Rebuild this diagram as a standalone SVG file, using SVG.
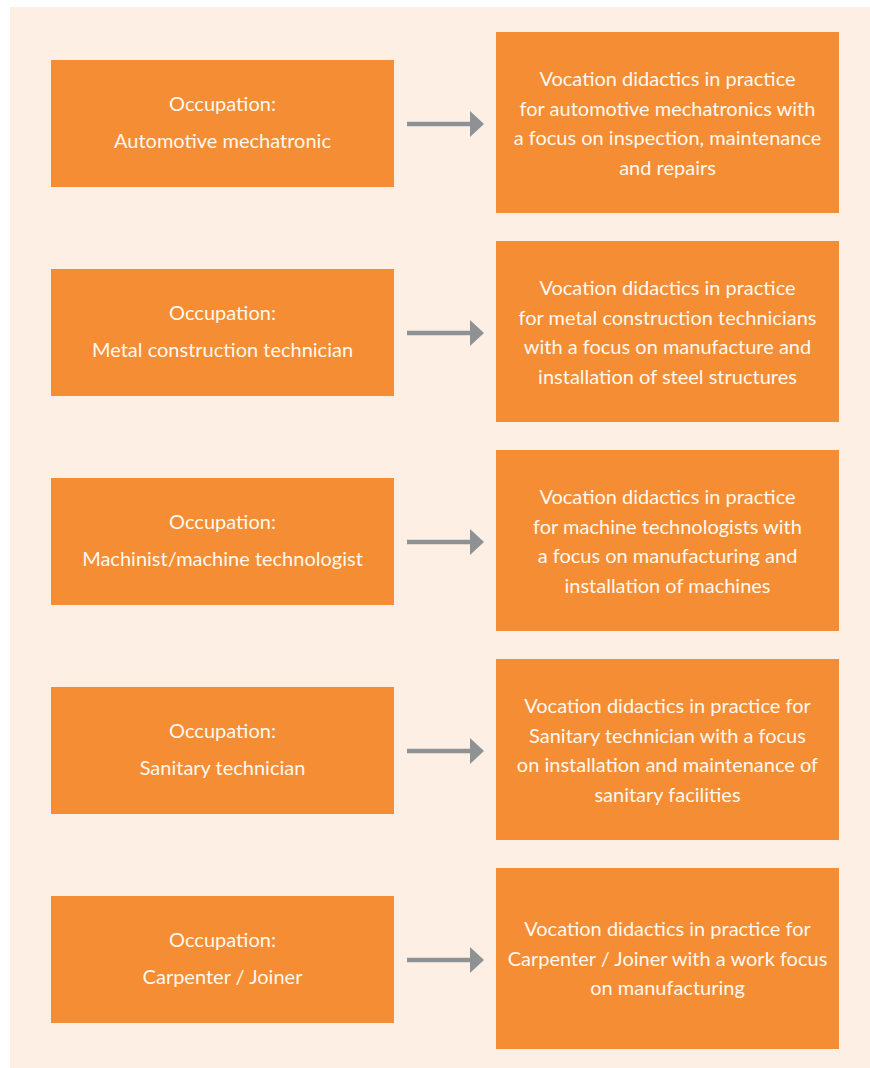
<svg xmlns="http://www.w3.org/2000/svg" width="870" height="1068" viewBox="0 0 870 1068">
  <defs>
    <style>
      .bg { fill: #fdefe3; }
      .box { fill: #f48d33; }
      .lbl { font-family: Lato, "Open Sans", "DejaVu Sans", sans-serif; font-size: 20px; fill: #fff8f0; text-anchor: middle; }
      .conn { stroke: #8f9295; stroke-width: 4.5; fill: none; }
      .head { fill: #8f9295; }
    </style>
    <marker id="arrowhead" viewBox="0 0 14 26" refX="0" refY="13" markerWidth="14" markerHeight="26" markerUnits="userSpaceOnUse" orient="auto">
      <path class="head" d="M0,0 L14,13 L0,26 Z"/>
    </marker>
  </defs>

  <rect class="bg" x="10" y="7" width="860" height="1061"/>

  <!-- Row 1 -->
  <g id="occ-automotive">
    <rect class="box" x="51" y="60" width="343" height="127"/>
    <text class="lbl" x="222.5" y="111">Occupation:</text>
    <text class="lbl" x="222.5" y="148">Automotive mechatronic</text>
  </g>
  <g id="did-automotive">
    <rect class="box" x="496" y="32" width="343" height="181"/>
    <text class="lbl" x="667.5" y="86">Vocation didactics in practice</text>
    <text class="lbl" x="667.5" y="115.5">for automotive mechatronics with</text>
    <text class="lbl" x="667.5" y="145">a focus on inspection, maintenance</text>
    <text class="lbl" x="667.5" y="174.5">and repairs</text>
  </g>

  <!-- Row 2 -->
  <g id="occ-metal">
    <rect class="box" x="51" y="269" width="343" height="127"/>
    <text class="lbl" x="222.5" y="320">Occupation:</text>
    <text class="lbl" x="222.5" y="357">Metal construction technician</text>
  </g>
  <g id="did-metal">
    <rect class="box" x="496" y="241" width="343" height="181"/>
    <text class="lbl" x="667.5" y="295">Vocation didactics in practice</text>
    <text class="lbl" x="667.5" y="324.5">for metal construction technicians</text>
    <text class="lbl" x="667.5" y="354">with a focus on manufacture and</text>
    <text class="lbl" x="667.5" y="383.5">installation of steel structures</text>
  </g>

  <!-- Row 3 -->
  <g id="occ-machinist">
    <rect class="box" x="51" y="478" width="343" height="127"/>
    <text class="lbl" x="222.5" y="529">Occupation:</text>
    <text class="lbl" x="222.5" y="566">Machinist/machine technologist</text>
  </g>
  <g id="did-machinist">
    <rect class="box" x="496" y="450" width="343" height="181"/>
    <text class="lbl" x="667.5" y="504">Vocation didactics in practice</text>
    <text class="lbl" x="667.5" y="533.5">for machine technologists with</text>
    <text class="lbl" x="667.5" y="563">a focus on manufacturing and</text>
    <text class="lbl" x="667.5" y="592.5">installation of machines</text>
  </g>

  <!-- Row 4 -->
  <g id="occ-sanitary">
    <rect class="box" x="51" y="687" width="343" height="127"/>
    <text class="lbl" x="222.5" y="738">Occupation:</text>
    <text class="lbl" x="222.5" y="775">Sanitary technician</text>
  </g>
  <g id="did-sanitary">
    <rect class="box" x="496" y="659" width="343" height="181"/>
    <text class="lbl" x="667.5" y="713">Vocation didactics in practice for</text>
    <text class="lbl" x="667.5" y="742.5">Sanitary technician with a focus</text>
    <text class="lbl" x="667.5" y="772">on installation and maintenance of</text>
    <text class="lbl" x="667.5" y="801.5">sanitary facilities</text>
  </g>

  <!-- Row 5 -->
  <g id="occ-carpenter">
    <rect class="box" x="51" y="896" width="343" height="127"/>
    <text class="lbl" x="222.5" y="947">Occupation:</text>
    <text class="lbl" x="222.5" y="984">Carpenter / Joiner</text>
  </g>
  <g id="did-carpenter">
    <rect class="box" x="496" y="868" width="343" height="181"/>
    <text class="lbl" x="667.5" y="936">Vocation didactics in practice for</text>
    <text class="lbl" x="667.5" y="966">Carpenter / Joiner with a work focus</text>
    <text class="lbl" x="667.5" y="995">on manufacturing</text>
  </g>

  <!-- Connectors -->
  <g id="connectors">
    <line class="conn" x1="407" y1="124" x2="470" y2="124" marker-end="url(#arrowhead)"/>
    <line class="conn" x1="407" y1="333" x2="470" y2="333" marker-end="url(#arrowhead)"/>
    <line class="conn" x1="407" y1="542" x2="470" y2="542" marker-end="url(#arrowhead)"/>
    <line class="conn" x1="407" y1="751" x2="470" y2="751" marker-end="url(#arrowhead)"/>
    <line class="conn" x1="407" y1="960" x2="470" y2="960" marker-end="url(#arrowhead)"/>
  </g>
</svg>
